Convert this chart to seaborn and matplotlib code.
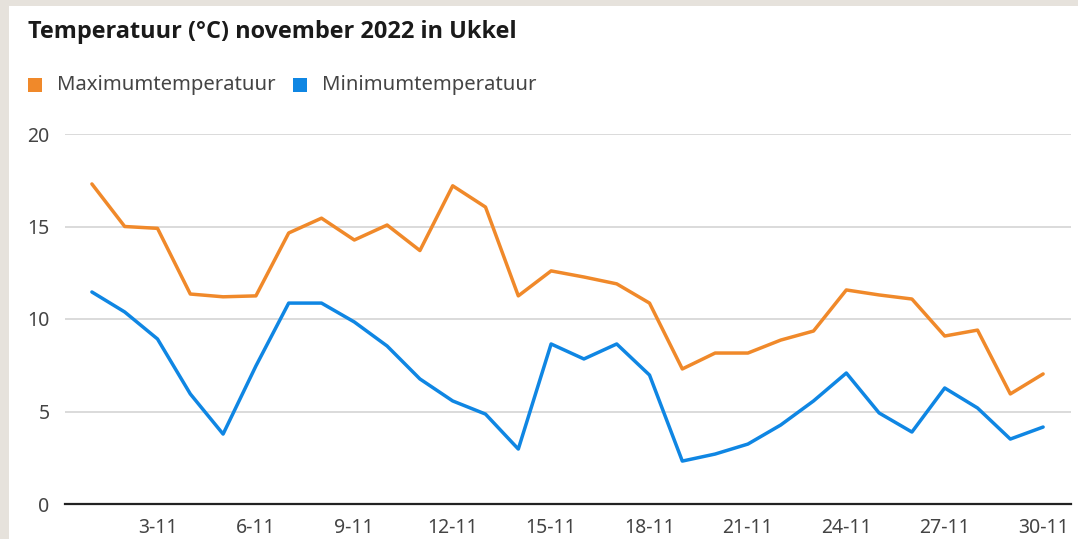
import pandas as pd
import numpy as np
import matplotlib.pyplot as plt
import seaborn as sns
from matplotlib.patches import Rectangle

# Temperaturen november 2022, Ukkel
dagen = list(range(1, 31))
max_temp = [17.3, 15.0, 14.9, 11.35, 11.2, 11.25, 14.65, 15.45, 14.27, 15.08,
            13.7, 17.2, 16.05, 11.25, 12.6, 12.27, 11.9, 10.86, 7.3, 8.16,
            8.16, 8.86, 9.35, 11.57, 11.3, 11.08, 9.08, 9.4, 5.95, 7.03]
min_temp = [11.46, 10.38, 8.92, 5.95, 3.78, 7.46, 10.86, 10.86, 9.84, 8.54,
            6.76, 5.57, 4.86, 2.97, 8.65, 7.84, 8.65, 6.97, 2.32, 2.7,
            3.24, 4.27, 5.57, 7.08, 4.92, 3.89, 6.27, 5.19, 3.51, 4.16]
tick_dagen = [3, 6, 9, 12, 15, 18, 21, 24, 27, 30]
tick_labels = [f'{d}-11' for d in tick_dagen]
y_ticks = [0, 5, 10, 15, 20]

reeksen = ['Maximumtemperatuur', 'Minimumtemperatuur']
kleuren = {'Maximumtemperatuur': '#f0892a', 'Minimumtemperatuur': '#0f86e3'}

df = pd.DataFrame({
    'dag': dagen * 2,
    'temp': max_temp + min_temp,
    'reeks': [reeksen[0]] * 30 + [reeksen[1]] * 30,
})

sns.set_style('white')
plt.rcParams['font.family'] = ['Noto Sans', 'DejaVu Sans']

fig = plt.figure(figsize=(10.78, 5.39), dpi=100)
fig.patch.set_facecolor('#e6e2dc')
# witte kaart achter alles
kaart = Rectangle((9 / 1078, 0), 1, 1 - 6 / 539, transform=fig.transFigure,
                  facecolor='white', edgecolor='none', zorder=-10)
fig.patches.append(kaart)

ax = fig.add_axes([65 / 1078, 1 - 504 / 539, (1071 - 65) / 1078, (504 - 134) / 539])
ax.set_facecolor('none')

sns.lineplot(data=df, x='dag', y='temp', hue='reeks', palette=kleuren,
             linewidth=2.5, ax=ax, legend=False, zorder=3)

ax.set_xlim(0.18, 30.85)
ax.set_ylim(0, 20)
ax.set_yticks(y_ticks)
ax.set_yticklabels([str(v) for v in y_ticks])
ax.set_xticks(tick_dagen)
ax.set_xticklabels(tick_labels)
ax.tick_params(axis='both', length=0, labelsize=14, labelcolor='#444444')
ax.tick_params(axis='y', pad=11)
ax.tick_params(axis='x', pad=10)
ax.yaxis.grid(True, color='#d4d4d4', linewidth=1.2)
ax.set_axisbelow(True)
for s in ['top', 'right', 'left']:
    ax.spines[s].set_visible(False)
ax.spines['bottom'].set_color('#222222')
ax.spines['bottom'].set_linewidth(1.6)
ax.set_xlabel('')
ax.set_ylabel('')

# titel en legenda
fig.text(28 / 1078, 1 - 32 / 539, 'Temperatuur (°C) november 2022 in Ukkel',
         fontsize=16.9, fontweight='bold', fontstretch='normal',
         family=['Open Sans', 'DejaVu Sans'], color='#1a1a1a', va='center', ha='left')
lx = 28
for naam in reeksen:
    fig.patches.append(Rectangle((lx / 1078, 1 - 92 / 539), 14 / 1078, 14 / 539,
                                 transform=fig.transFigure, facecolor=kleuren[naam],
                                 edgecolor='none'))
    t = fig.text((lx + 29) / 1078, 1 - 85 / 539, naam, fontsize=14.6, color='#444444',
                 va='center', ha='left')
    fig.canvas.draw()
    bb = t.get_window_extent()
    lx = bb.x1 + 17

fig.savefig('out.png', dpi=100, facecolor=fig.get_facecolor())
